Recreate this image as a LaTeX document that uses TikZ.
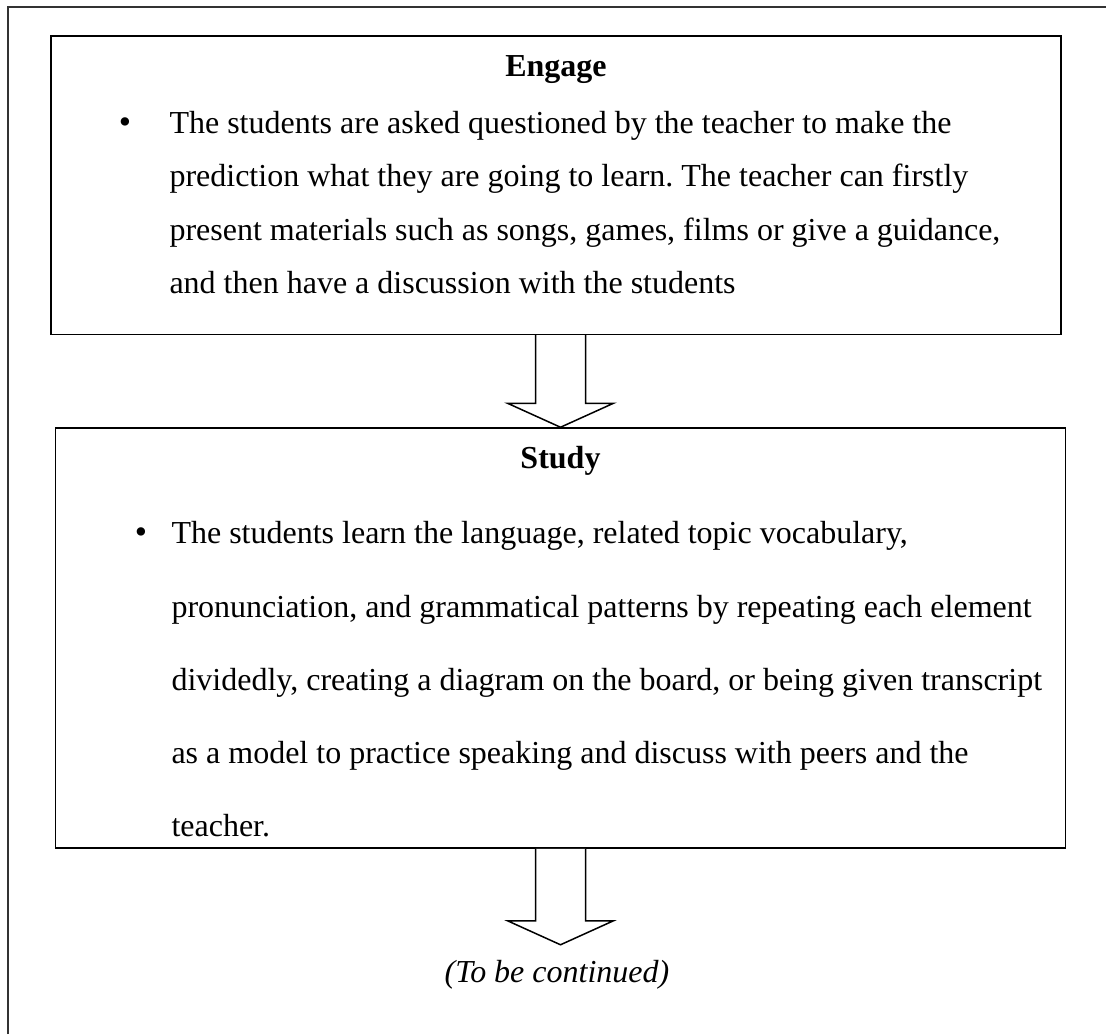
\documentclass[tikz,border=0pt]{standalone}
\usepackage{fontspec}
\setmainfont{Liberation Serif}
\usetikzlibrary{calc,positioning}
\frenchspacing

% block arrow from the foot of one box (#1) down to a tip (#2)
\newcommand{\stagearrow}[2]{%
  \filldraw[blockarrow] ($(#1)+(-25,0)$) -- ($(#2)+(-25,-24)$) -- ($(#2)+(-53,-24)$)
    -- (#2) -- ($(#2)+(53,-24)$) -- ($(#2)+(25,-24)$) -- ($(#1)+(25,0)$);}

\begin{document}
\begin{tikzpicture}[x=0.4pt, y=-0.4pt, line join=miter,
  font=\fontsize{12.8}{15}\selectfont]
    \tikzstyle{stagebox}=[draw, line width=0.6pt, minimum width=403.8pt, inner sep=0pt]
    \tikzstyle{title}=[font=\fontsize{12.8}{15}\selectfont\bfseries, anchor=base]
    \tikzstyle{bullet}=[anchor=base, inner sep=0pt, font=\fontsize{14}{15}\selectfont]
    \tikzstyle{bodytext}=[align=left, anchor=base west, inner sep=0pt]
    \tikzstyle{blockarrow}=[draw=black, fill=white, line width=0.6pt]

    \useasboundingbox (0,0) rectangle (1106,1034);
    % page frame
    \draw[line width=0.8pt, black!80] (8,1034) |- (1106,7);

    % Engage (body node sits on its last baseline)
    \node[stagebox, minimum height=119.4pt] (engage) at (556,185) {};
    \node[title]  (engagetitle)  at (556,76)  {Engage};
    \node[bullet] (engagebullet) at (125,133) {\textbullet};
    \node[bodytext, font=\fontsize{12.8}{21.4}\selectfont] (engagebody) at (169,293.5)
      {The students are asked questioned by the teacher to make the\\
       prediction what they are going to learn. The teacher can firstly\\
       present materials such as songs, games, films or give a guidance,\\
       and then have a discussion with the students};

    % Study
    \node[stagebox, minimum height=168pt] (study) at (560.5,638) {};
    \node[title]  (studytitle)  at (560.5,468) {Study};
    \node[bullet] (studybullet) at (141,543.6) {\textbullet};
    \node[bodytext, font=\fontsize{12.8}{29.3}\selectfont] (studybody) at (171,836.8)
      {The students learn the language, related topic vocabulary,\\
       pronunciation, and grammatical patterns by repeating each element\\
       dividedly, creating a diagram on the board, or being given transcript\\
       as a model to practice speaking and discuss with peers and the\\
       teacher.};

    % arrows
    \coordinate (contarrow) at ($(study.south)+(0,96)$);
    \stagearrow{study.north |- engage.south}{study.north}
    \stagearrow{study.south}{contarrow}

    \node[anchor=base] (cont) at (557,982) {\itshape (To be continued)};

  \end{tikzpicture}
\end{document}
